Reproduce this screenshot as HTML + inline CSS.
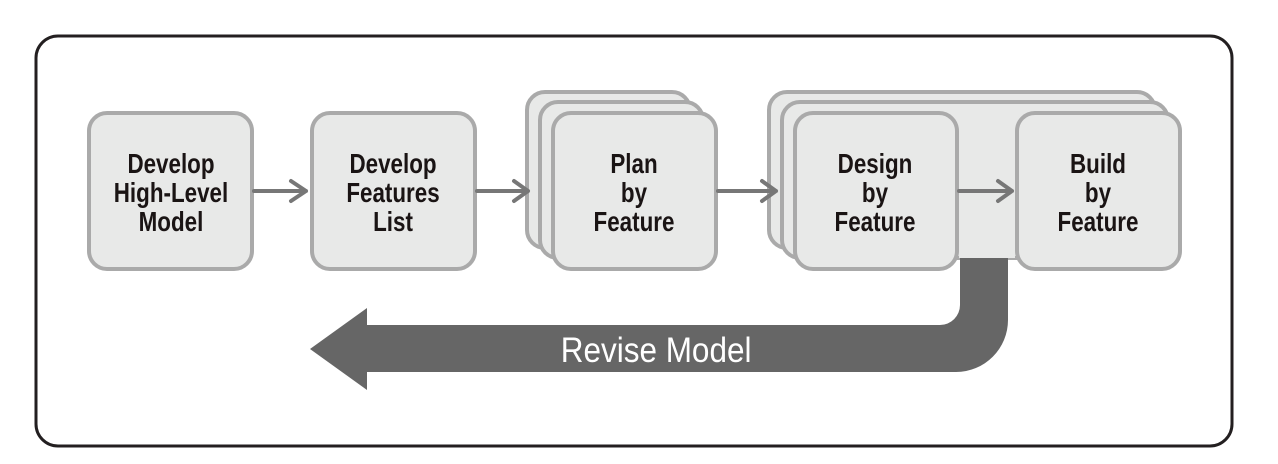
<!DOCTYPE html>
<html><head><style>
body{margin:0;background:#fff;}
svg{display:block}
text{font-family:"Liberation Sans",sans-serif;font-weight:bold;font-size:28px;fill:#1a1414;text-anchor:middle}
</style></head><body>
<svg width="1278" height="464" viewBox="0 0 1278 464">
<rect x="36" y="36" width="1196" height="410" rx="22" fill="#fff" stroke="#231f20" stroke-width="3"/>
<g fill="#e8e9e8" stroke="#aaa" stroke-width="4">
<rect x="89" y="113" width="163" height="156" rx="18"/>
<rect x="312" y="113" width="163" height="156" rx="18"/>
<rect x="527" y="92" width="163" height="156" rx="18"/>
<rect x="540" y="102" width="163" height="156" rx="18"/>
<rect x="553" y="113" width="163" height="156" rx="18"/>
<rect x="769" y="92" width="386" height="156" rx="18"/>
<rect x="782" y="102" width="386" height="156" rx="18"/>
<path d="M813 113 H1162 a18 18 0 0 1 18 18 V248 H795 V131 a18 18 0 0 1 18 -18Z" stroke="none"/>
</g>
<path d="M960 258 H1008 V320 a52 52 0 0 1 -52 52 H367 V390 L310 349 L367 308 V325 H940 a20 20 0 0 0 20 -20 Z" fill="#666"/>
<g fill="#e8e9e8" stroke="#aaa" stroke-width="4">
<rect x="795" y="113" width="162" height="156" rx="18"/>
<rect x="1017" y="113" width="163" height="156" rx="18"/>
</g>
<rect x="959" y="115" width="56" height="143" fill="#e8e9e8"/>
<g stroke="#777" stroke-width="4" fill="none" stroke-linecap="round" stroke-linejoin="round">
<path d="M254 191 H306 M291 181 L306 191 L291 201"/>
<path d="M477 191 H528 M514 181 L528 191 L514 201"/>
<path d="M718 191 H776 M762 181 L776 191 L762 201"/>
<path d="M959 191 H1012 M998 181 L1012 191 L998 201"/>
</g>
<g transform="scale(0.8,1)">
<text x="213.75" y="173">Develop</text><text x="213.75" y="202">High-Level</text><text x="213.75" y="231">Model</text>
<text x="491.25" y="173">Develop</text><text x="491.25" y="202">Features</text><text x="491.25" y="231">List</text>
<text x="792.5" y="173">Plan</text><text x="792.5" y="202">by</text><text x="792.5" y="231">Feature</text>
<text x="1093.75" y="173">Design</text><text x="1093.75" y="202">by</text><text x="1093.75" y="231">Feature</text>
<text x="1372.5" y="173">Build</text><text x="1372.5" y="202">by</text><text x="1372.5" y="231">Feature</text>
</g>
<g transform="scale(0.9,1)">
<text x="729" y="362" style="fill:#fff;font-weight:normal;font-size:35px">Revise Model</text>
</g>
</svg>
</body></html>
